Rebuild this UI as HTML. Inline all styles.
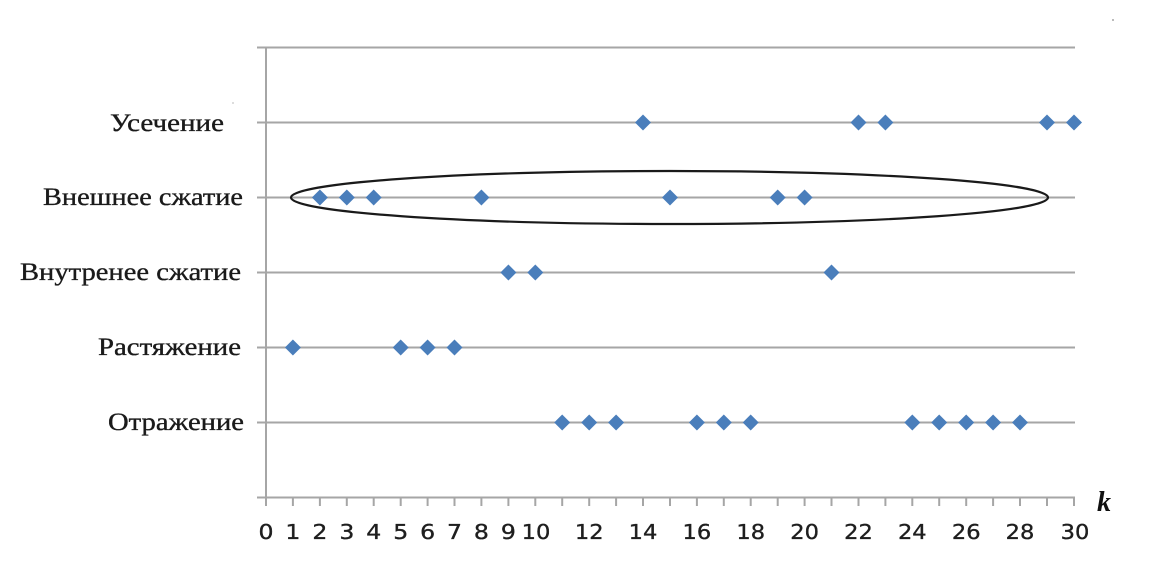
<!DOCTYPE html>
<html>
<head>
<meta charset="utf-8">
<style>
  html, body { margin: 0; padding: 0; background: #ffffff; }
  svg { display: block; }
</style>
</head>
<body>
<svg width="1171" height="567" viewBox="0 0 1171 567" xmlns="http://www.w3.org/2000/svg">
  <rect x="0" y="0" width="1171" height="567" fill="#ffffff"/>

  <!-- gridlines -->
  <g stroke="#a6a6a6" stroke-width="2" fill="none">
    <line x1="257" y1="47.5" x2="1075" y2="47.5"/>
    <line x1="257" y1="122.5" x2="1075" y2="122.5"/>
    <line x1="257" y1="197.5" x2="1075" y2="197.5"/>
    <line x1="257" y1="272.5" x2="1075" y2="272.5"/>
    <line x1="257" y1="347.5" x2="1075" y2="347.5"/>
    <line x1="257" y1="422.5" x2="1075" y2="422.5"/>
    <line x1="257" y1="497.5" x2="1075" y2="497.5"/>
    <!-- y axis -->
    <line x1="266" y1="46.5" x2="266" y2="506"/>
  </g>

  <!-- x ticks -->
  <g stroke="#a6a6a6" stroke-width="2">
    <line x1="292.9" y1="497" x2="292.9" y2="506"/>
    <line x1="319.9" y1="497" x2="319.9" y2="506"/>
    <line x1="346.8" y1="497" x2="346.8" y2="506"/>
    <line x1="373.7" y1="497" x2="373.7" y2="506"/>
    <line x1="400.7" y1="497" x2="400.7" y2="506"/>
    <line x1="427.6" y1="497" x2="427.6" y2="506"/>
    <line x1="454.5" y1="497" x2="454.5" y2="506"/>
    <line x1="481.4" y1="497" x2="481.4" y2="506"/>
    <line x1="508.4" y1="497" x2="508.4" y2="506"/>
    <line x1="535.3" y1="497" x2="535.3" y2="506"/>
    <line x1="562.2" y1="497" x2="562.2" y2="506"/>
    <line x1="589.2" y1="497" x2="589.2" y2="506"/>
    <line x1="616.1" y1="497" x2="616.1" y2="506"/>
    <line x1="643.0" y1="497" x2="643.0" y2="506"/>
    <line x1="670.0" y1="497" x2="670.0" y2="506"/>
    <line x1="696.9" y1="497" x2="696.9" y2="506"/>
    <line x1="723.8" y1="497" x2="723.8" y2="506"/>
    <line x1="750.7" y1="497" x2="750.7" y2="506"/>
    <line x1="777.7" y1="497" x2="777.7" y2="506"/>
    <line x1="804.6" y1="497" x2="804.6" y2="506"/>
    <line x1="831.5" y1="497" x2="831.5" y2="506"/>
    <line x1="858.5" y1="497" x2="858.5" y2="506"/>
    <line x1="885.4" y1="497" x2="885.4" y2="506"/>
    <line x1="912.3" y1="497" x2="912.3" y2="506"/>
    <line x1="939.2" y1="497" x2="939.2" y2="506"/>
    <line x1="966.2" y1="497" x2="966.2" y2="506"/>
    <line x1="993.1" y1="497" x2="993.1" y2="506"/>
    <line x1="1020.0" y1="497" x2="1020.0" y2="506"/>
    <line x1="1047.0" y1="497" x2="1047.0" y2="506"/>
    <line x1="1074.0" y1="497" x2="1074.0" y2="506"/>
  </g>

  <!-- x tick labels -->
  <g font-family="'DejaVu Sans', Verdana, sans-serif" font-size="20.5" fill="#1e1e1e" stroke="#1e1e1e" stroke-width="0.35" text-anchor="middle">
    <text transform="translate(266,539) scale(1.15,1)">0</text>
    <text transform="translate(292.9,539) scale(1.15,1)">1</text>
    <text transform="translate(319.9,539) scale(1.15,1)">2</text>
    <text transform="translate(346.8,539) scale(1.15,1)">3</text>
    <text transform="translate(373.7,539) scale(1.15,1)">4</text>
    <text transform="translate(400.7,539) scale(1.15,1)">5</text>
    <text transform="translate(427.6,539) scale(1.15,1)">6</text>
    <text transform="translate(454.5,539) scale(1.15,1)">7</text>
    <text transform="translate(481.4,539) scale(1.15,1)">8</text>
    <text transform="translate(508.4,539) scale(1.15,1)">9</text>
    <text transform="translate(536,539) scale(1.1,1)">10</text>
    <text transform="translate(589.2,539) scale(1.1,1)">12</text>
    <text transform="translate(643.0,539) scale(1.1,1)">14</text>
    <text transform="translate(696.9,539) scale(1.1,1)">16</text>
    <text transform="translate(750.7,539) scale(1.1,1)">18</text>
    <text transform="translate(804.6,539) scale(1.1,1)">20</text>
    <text transform="translate(858.5,539) scale(1.1,1)">22</text>
    <text transform="translate(912.3,539) scale(1.1,1)">24</text>
    <text transform="translate(966.2,539) scale(1.1,1)">26</text>
    <text transform="translate(1020.0,539) scale(1.1,1)">28</text>
    <text transform="translate(1075,539) scale(1.1,1)">30</text>
  </g>

  <!-- k axis label -->
  <text x="1097" y="511" font-family="'Liberation Serif', serif" font-size="28" font-style="italic" font-weight="bold" fill="#111">k</text>

  <!-- y category labels -->
  <g font-family="'Liberation Serif', 'Times New Roman', serif" font-size="25" fill="#1a1a1a" stroke="#1a1a1a" stroke-width="0.35">
    <text x="110" y="131" textLength="114" lengthAdjust="spacingAndGlyphs">Усечение</text>
    <text x="43" y="205" textLength="200" lengthAdjust="spacingAndGlyphs">Внешнее сжатие</text>
    <text x="20" y="280" textLength="221" lengthAdjust="spacingAndGlyphs">Внутренее сжатие</text>
    <text x="98" y="355" textLength="143" lengthAdjust="spacingAndGlyphs">Растяжение</text>
    <text x="108" y="430" textLength="136" lengthAdjust="spacingAndGlyphs">Отражение</text>
  </g>

  <!-- ellipse -->
  <ellipse cx="669.5" cy="197.5" rx="378.5" ry="26.5" fill="none" stroke="#1a1a1a" stroke-width="2.2"/>

  <!-- data points -->
  <defs>
    <path id="d" d="M0,-8 L8,0 L0,8 L-8,0 Z" fill="#4a7ebb"/>
  </defs>
  <g>
    <use href="#d" x="643.0" y="122.5"/>
    <use href="#d" x="858.5" y="122.5"/>
    <use href="#d" x="885.4" y="122.5"/>
    <use href="#d" x="1047.0" y="122.5"/>
    <use href="#d" x="1074.0" y="122.5"/>
    <use href="#d" x="319.9" y="197.5"/>
    <use href="#d" x="346.8" y="197.5"/>
    <use href="#d" x="373.7" y="197.5"/>
    <use href="#d" x="481.4" y="197.5"/>
    <use href="#d" x="670.0" y="197.5"/>
    <use href="#d" x="777.7" y="197.5"/>
    <use href="#d" x="804.6" y="197.5"/>
    <use href="#d" x="508.4" y="272.5"/>
    <use href="#d" x="535.3" y="272.5"/>
    <use href="#d" x="831.5" y="272.5"/>
    <use href="#d" x="292.9" y="347.5"/>
    <use href="#d" x="400.7" y="347.5"/>
    <use href="#d" x="427.6" y="347.5"/>
    <use href="#d" x="454.5" y="347.5"/>
    <use href="#d" x="562.2" y="422.5"/>
    <use href="#d" x="589.2" y="422.5"/>
    <use href="#d" x="616.1" y="422.5"/>
    <use href="#d" x="696.9" y="422.5"/>
    <use href="#d" x="723.8" y="422.5"/>
    <use href="#d" x="750.7" y="422.5"/>
    <use href="#d" x="912.3" y="422.5"/>
    <use href="#d" x="939.2" y="422.5"/>
    <use href="#d" x="966.2" y="422.5"/>
    <use href="#d" x="993.1" y="422.5"/>
    <use href="#d" x="1020.0" y="422.5"/>
  </g>

  <!-- faint artifacts -->
  <rect x="1112" y="19" width="2" height="2" fill="#bbb"/>
  <rect x="232" y="102" width="2" height="2" fill="#ddd"/>
</svg>
</body>
</html>
